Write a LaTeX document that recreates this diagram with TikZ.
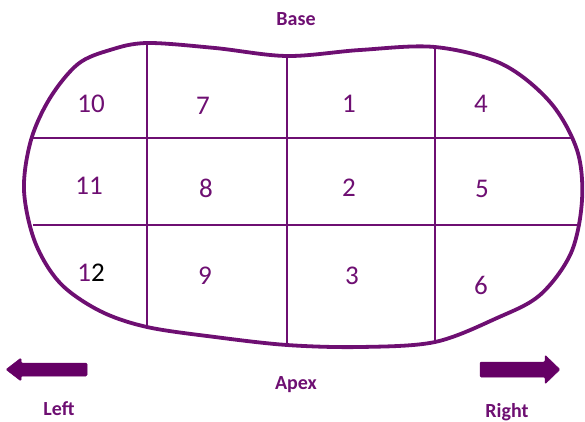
\documentclass[tikz,border=0pt]{standalone}
\usepackage{fontspec}
\setmainfont{Carlito}
\definecolor{bean}{HTML}{6E0F72}
\definecolor{arr}{HTML}{650065}
\begin{document}
\begin{tikzpicture}[x=1pt,y=-1pt,
  grid/.style={draw=bean,line width=1.8pt},
  num/.style={text=bean,font=\fontsize{27}{29}\selectfont,inner sep=0pt},
  lbl/.style={text=bean,font=\bfseries\fontsize{20}{22}\selectfont,inner sep=0pt},
  arrowshape/.style={fill=arr,draw=arr,line width=0.5pt,rounded corners=1.2pt}]
\useasboundingbox (0,0) rectangle (585,421);
% outline
\draw[bean,line width=3.8pt] plot[smooth cycle,tension=0.55] coordinates {
 (147,43) (215,48) (287,56) (360,50) (435,47) (502,64) (550,102) (577,150)
 (582,200) (571,253) (540,295) (497,318) (435,342) (360,347) (287,345)
 (215,337) (147,327) (100,311) (60,283) (35,242) (24,190) (31,140)
 (50,98) (78,64) (110,50)};
% grid
\coordinate (v1t) at (147,43); \coordinate (v1b) at (147,327);
\coordinate (v2t) at (287,56); \coordinate (v2b) at (287,345);
\coordinate (v3t) at (435,47); \coordinate (v3b) at (435,342);
\coordinate (h1l) at (32,138); \coordinate (h1r) at (571,138);
\coordinate (h2l) at (33,225); \coordinate (h2r) at (578,225);
\draw[grid] (v1t) -- (v1b);
\draw[grid] (v2t) -- (v2b);
\draw[grid] (v3t) -- (v3b);
\draw[grid] (h1l) -- (h1r);
\draw[grid] (h2l) -- (h2r);
% numbers
\node[num] (n10) at (91,104) {10};
\node[num] (n7) at (203,106) {7};
\node[num] (n1) at (349,104) {1};
\node[num] (n4) at (481,104) {4};
\node[num] (n11) at (89,186) {11};
\node[num] (n8) at (206,188) {8};
\node[num] (n2) at (349,188) {2};
\node[num] (n5) at (482,189) {5};
\node[num] (n12) at (91,273) {1\textcolor{black}{2}};
\node[num] (n9) at (205,276) {9};
\node[num] (n3) at (352,276) {3};
\node[num] (n6) at (481,285) {6};
% labels
\node[lbl] (base) at (296,19) {Base};
\node[lbl] (apex) at (296,385) {Apex};
\node[lbl] (left) at (59,409) {Left};
\node[lbl] (right) at (507,412) {Right};
% arrows
\filldraw[arrowshape] (87,363) -- (21,363) -- (21,358) -- (6,369.5) -- (21,381) -- (21,376) -- (87,376) -- cycle;
\filldraw[arrowshape] (480,362) -- (545,362) -- (545,355) -- (560,369.5) -- (545,384) -- (545,377) -- (480,377) -- cycle;
\end{tikzpicture}
\end{document}
